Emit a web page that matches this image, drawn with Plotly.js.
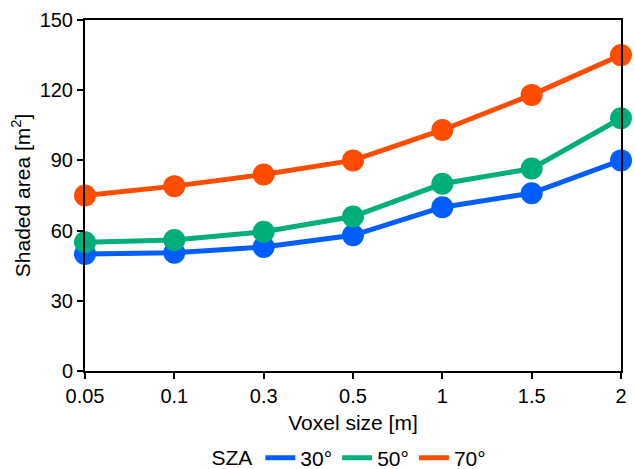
<!DOCTYPE html>
<html><head><meta charset="utf-8">
<script src="https://cdn.plot.ly/plotly-3.0.1.min.js"></script>
<style>html,body{margin:0;padding:0;background:#fff}#chart{width:635px;height:469px}</style>
</head><body><div id="chart"></div>
<script>
const categories = ["0.05","0.1","0.3","0.5","1","1.5","2"];
const sza30 = [50, 50.5, 53, 58, 70, 76, 90];
const sza50 = [55, 56, 59.5, 66, 80, 86.5, 108];
const sza70 = [75, 79, 84, 90, 103, 118, 135];
const seriesNames = ["30°","50°","70°"];
const colors = ["#005eff","#00ae7a","#ff4d00"];
const allSeries = [sza30, sza50, sza70];

const traces = [];
allSeries.forEach((ys,i)=>{
  traces.push({x:categories, y:ys, type:"scatter", mode:"lines+markers",
    line:{color:colors[i], width:5}, marker:{color:colors[i], size:22},
    cliponaxis:false, showlegend:false, name:seriesNames[i]});
});
allSeries.forEach((ys,i)=>{
  traces.push({x:[null], y:[null], type:"scatter", mode:"lines",
    line:{color:colors[i], width:5}, name:seriesNames[i], showlegend:true});
});

const font = {family:"Liberation Sans, Arial, sans-serif", color:"#000", size:20};
const layout = {
  width:635, height:469,
  margin:{l:85, r:14, t:20, b:98, autoexpand:false},
  paper_bgcolor:"#fff", plot_bgcolor:"#fff",
  font:font,
  xaxis:{type:"category", range:[0,6], showline:true, linecolor:"#000", linewidth:2, mirror:true,
    ticks:"outside", ticklen:6, tickwidth:2, tickcolor:"#000", showgrid:false, zeroline:false,
    tickfont:{size:20}, title:{text:"Voxel size [m]", font:{size:21}, standoff:9}},
  yaxis:{range:[0,150], tickvals:[0,30,60,90,120,150], showline:true, linecolor:"#000", linewidth:2, mirror:true,
    ticks:"outside", ticklen:6, tickwidth:2, tickcolor:"#000", showgrid:false, zeroline:false,
    tickfont:{size:20}, title:{text:"Shaded area [m<sup>2</sup>]", font:{size:21}, standoff:3}},
  legend:{orientation:"h", x:0.552, xref:"container", xanchor:"center", y:0.023, yref:"container", yanchor:"middle",
    title:{text:"SZA", font:{size:21}}, font:{size:21}, itemwidth:30, tracegroupgap:0,
    bgcolor:"rgba(0,0,0,0)"}
};
Plotly.newPlot("chart", traces, layout, {displayModeBar:false, staticPlot:true});
</script></body></html>
